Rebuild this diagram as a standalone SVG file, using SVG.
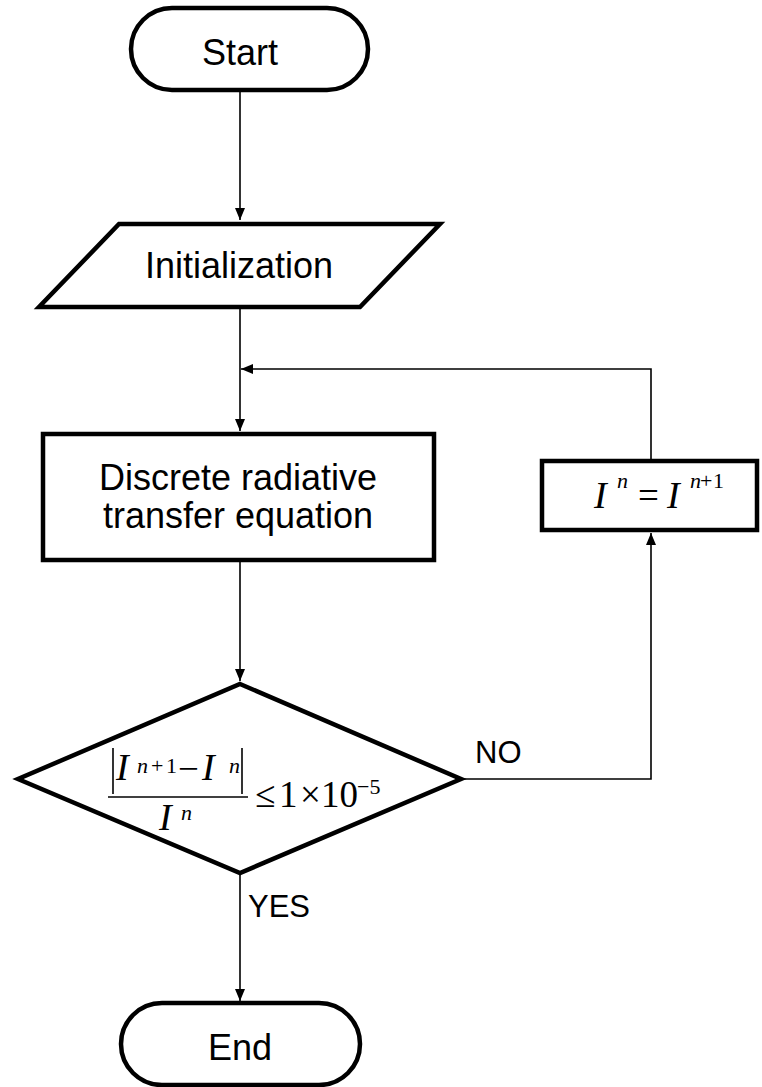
<svg xmlns="http://www.w3.org/2000/svg" width="762" height="1087" viewBox="0 0 762 1087">
<style>
.shape{fill:#fff;stroke:#000;stroke-width:4.5;stroke-linejoin:miter}
.lbl{font-family:"Liberation Sans",Arial,sans-serif;font-size:36px;fill:#000}
.small{font-family:"Liberation Sans",Arial,sans-serif;font-size:31px;fill:#000}
.conn{fill:none;stroke:#000;stroke-width:1.6}
.m{font-family:"Liberation Serif","Times New Roman",serif;font-size:37px;fill:#000}
.mi{font-family:"Liberation Serif","Times New Roman",serif;font-size:38px;font-style:italic;fill:#000}
.s{font-family:"Liberation Serif","Times New Roman",serif;font-size:22px;fill:#000}
.si{font-family:"Liberation Serif","Times New Roman",serif;font-size:22px;font-style:italic;fill:#000}
</style>
<defs>
<marker id="arr" viewBox="0 0 12 10" refX="12" refY="5" markerWidth="12" markerHeight="10" markerUnits="userSpaceOnUse" orient="auto">
<path d="M0,0 L12,5 L0,10 z" fill="#000"/>
</marker>
</defs>
<g id="connectors">
<line class="conn" x1="240" y1="91" x2="240" y2="220" marker-end="url(#arr)"/>
<line class="conn" x1="240" y1="308" x2="240" y2="431" marker-end="url(#arr)"/>
<line class="conn" x1="240" y1="561" x2="240" y2="681" marker-end="url(#arr)"/>
<line class="conn" x1="240" y1="874" x2="240" y2="1001" marker-end="url(#arr)"/>
<polyline class="conn" points="463,779 651,779 651,533" marker-end="url(#arr)"/>
<polyline class="conn" points="651,459 651,369 241,369" marker-end="url(#arr)"/>
</g>
<g id="start">
<rect class="shape" x="131" y="8" width="237" height="82" rx="41" ry="41"/>
<text class="lbl" x="240" y="65" text-anchor="middle">Start</text>
</g>
<g id="init">
<polygon class="shape" points="119,224 440,224 360,307 39,307"/>
<text class="lbl" x="239" y="278" text-anchor="middle">Initialization</text>
</g>
<g id="drte">
<rect class="shape" x="43" y="434" width="391" height="126"/>
<text class="lbl" x="238" y="490" text-anchor="middle">Discrete radiative</text>
<text class="lbl" x="238" y="528" text-anchor="middle">transfer equation</text>
</g>
<g id="decision">
<polygon class="shape" points="240,684 461,779 240,873 18,779"/>
<line x1="113" y1="748" x2="113" y2="794" stroke="#000" stroke-width="1.6"/>
<line x1="242" y1="748" x2="242" y2="794" stroke="#000" stroke-width="1.6"/>
<text class="mi" x="116" y="780">I</text>
<text class="si" x="137" y="773">n</text>
<text class="s" x="151" y="773">+</text>
<text class="s" x="166" y="773">1</text>
<text class="m" x="178" y="781">−</text>
<text class="mi" x="202" y="780">I</text>
<text class="si" x="229" y="773">n</text>
<line x1="108" y1="797" x2="248" y2="797" stroke="#000" stroke-width="1.6"/>
<text class="mi" x="159" y="830">I</text>
<text class="si" x="181" y="820">n</text>
<text class="m" x="255" y="807">≤</text>
<text class="m" x="279" y="807">1</text>
<text class="m" x="300" y="807">×</text>
<text class="m" x="321" y="807">10</text>
<text class="s" x="357" y="794">−5</text>
</g>
<g id="update">
<rect class="shape" x="542" y="461" width="215" height="69"/>
<text class="mi" x="594" y="508">I</text>
<text class="si" x="617" y="488">n</text>
<text class="m" x="638" y="508">=</text>
<text class="mi" x="667" y="508">I</text>
<text class="si" x="690" y="488">n</text>
<text class="s" x="700" y="488">+</text>
<text class="s" x="713" y="488">1</text>
</g>
<g id="labels">
<text class="small" x="475" y="763">NO</text>
<text class="small" x="248" y="917">YES</text>
</g>
<g id="end">
<rect class="shape" x="121" y="1003" width="239" height="82" rx="41" ry="41"/>
<text class="lbl" x="240" y="1060" text-anchor="middle">End</text>
</g>
</svg>
